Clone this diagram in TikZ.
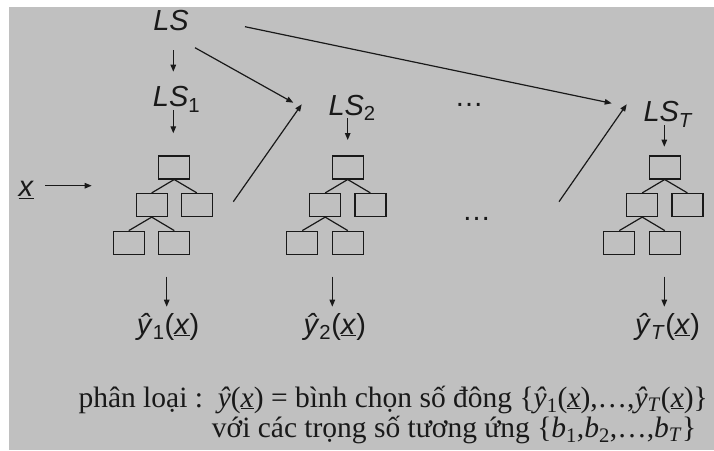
\documentclass[tikz,border=0pt]{standalone}
\usepackage{fontspec}
\setmainfont{Liberation Serif}
\setsansfont{Liberation Sans}
\usetikzlibrary{arrows.meta}
\definecolor{bg}{RGB}{192,192,192}
\definecolor{ink}{RGB}{25,25,25}
\newcommand{\ux}{\underline{\textit{x}}}
\begin{document}
\begin{tikzpicture}[x=1pt,y=-1pt,
  box/.style={draw=ink, line width=1.2pt, minimum width=31pt, minimum height=23pt, inner sep=0pt},
  edge/.style={draw=ink, line width=1.2pt},
  arr/.style={draw=ink, line width=1.2pt, -{Triangle[length=7pt,width=5.5pt]}},
  sl/.style={font=\sffamily\fontsize{29}{34}\selectfont, inner sep=0pt, anchor=base west, text=ink},
  sr/.style={font=\rmfamily\fontsize{29.5}{30}\selectfont, inner sep=0pt, anchor=base west, text=ink, align=left}]
\useasboundingbox (0,0) rectangle (714,450);
\fill[white] (0,0) rectangle (714,450);
\fill[bg] (9,7) rectangle (714,450);

% trees
\foreach \i/\dx in {1/0, 2/173.5, T/490.5}{
  \node[box] (t\i a) at ({174.2+\dx},167.4) {};
  \node[box] (t\i b) at ({151.7+\dx},205) {};
  \node[box] (t\i c) at ({196.9+\dx},205) {};
  \node[box] (t\i d) at ({128.8+\dx},242.7) {};
  \node[box] (t\i e) at ({174.3+\dx},242.7) {};
  \draw[edge] (t\i a.south) -- (t\i b.north);
  \draw[edge] (t\i a.south) -- (t\i c.north);
  \draw[edge] (t\i b.south) -- (t\i d.north);
  \draw[edge] (t\i b.south) -- (t\i e.north);
}

% labels
\node[sl, anchor=center] (LS) at (171,21) {\textit{LS}};
\node[sl] (LS1) at (152.7,106.7) {\textit{LS}\textsubscript{1}};
\node[sl] (LS2) at (328.3,115) {\textit{LS}\textsubscript{2}};
\node[sl] (LST) at (643.3,121.7) {\textit{LS}\textsubscript{\textit{T}}};
\node[sl] (x) at (18.3,196.7) {\ux};
\node[sl] (y1) at (136.7,334) {\textit{ŷ}\textsubscript{1}(\ux)};
\node[sl] (y2) at (303.3,334) {\textit{ŷ}\textsubscript{2}(\ux)};
\node[sl] (yT) at (635,334) {\textit{ŷ}\textsubscript{\textit{T}}(\ux)};
\node[sl, anchor=base] (dots1) at (469,106) {…};
\node[sl, anchor=base] (dots2) at (476.7,220) {…};

\node[sr] (caption) at (78.3,437) {phân loại :\ \ \textit{ŷ}(\ux) = bình chọn số đông \{\textit{ŷ}\textsubscript{1}(\ux),…,\textit{ŷ}\textsubscript{\textit{T}}(\ux)\}\\
\hspace*{133.4pt}với các trọng số tương ứng \{\textit{b}\textsubscript{1},\textit{b}\textsubscript{2},…,\textit{b}\textsubscript{\textit{T}}\}};

% arrow end points
\coordinate (a1s) at (173.3,50);   \coordinate (a1e) at (173.3,71.7);
\coordinate (a2s) at (173.3,110);  \coordinate (a2e) at (173.3,133.3);
\coordinate (a3s) at (195,47.7);   \coordinate (a3e) at (293.3,102.7);
\coordinate (a4s) at (245,26.7);   \coordinate (a4e) at (611.7,103.3);
\coordinate (a5s) at (233.3,201.7);\coordinate (a5e) at (301.7,104.3);
\coordinate (a6s) at (559,201.7);  \coordinate (a6e) at (626.7,104.3);
\coordinate (a7s) at (347.7,118);  \coordinate (a7e) at (347.7,140);
\coordinate (a8s) at (664.3,125);  \coordinate (a8e) at (664.3,146.7);
\coordinate (a9s) at (45,185.7);   \coordinate (a9e) at (91.7,185.7);
\coordinate (b1s) at (166.7,276.7);\coordinate (b1e) at (166.7,306.7);
\coordinate (b2s) at (332.3,276.7);\coordinate (b2e) at (332.3,306.7);
\coordinate (b3s) at (664.3,276.7);\coordinate (b3e) at (664.3,306.7);

\foreach \s/\e in {a1s/a1e,a2s/a2e,a3s/a3e,a4s/a4e,a5s/a5e,a6s/a6e,a7s/a7e,a8s/a8e,a9s/a9e,b1s/b1e,b2s/b2e,b3s/b3e}
  \draw[arr] (\s) -- (\e);
\end{tikzpicture}
\end{document}
